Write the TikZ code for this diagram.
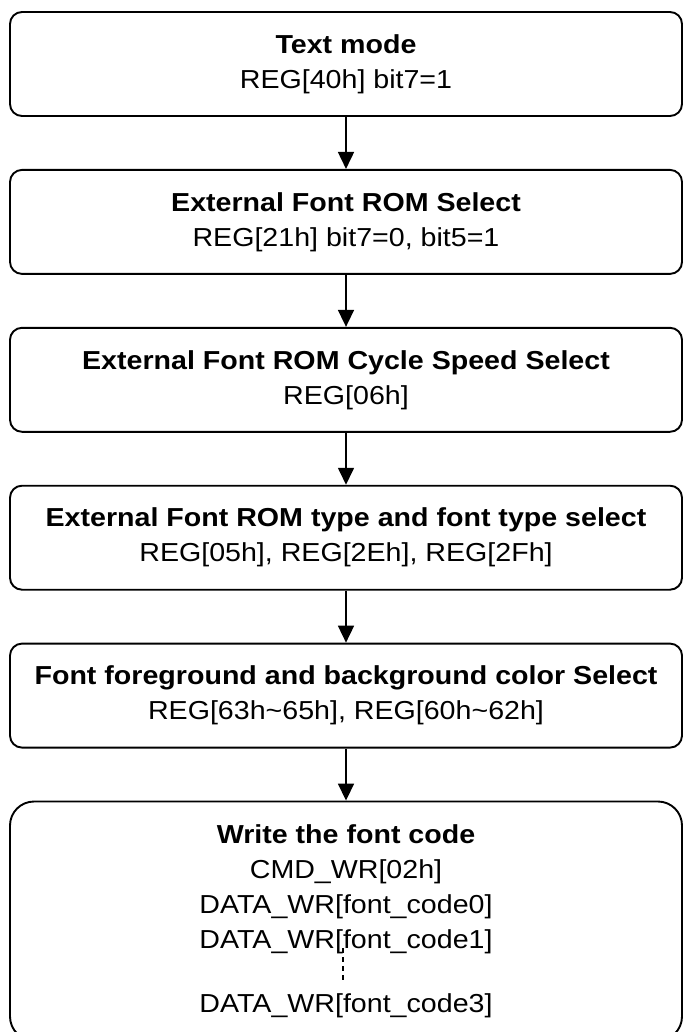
\documentclass[tikz,border=0pt]{standalone}
\usepackage{fontspec}
\setmainfont{Liberation Sans}[FakeStretch=1.1]
\usepackage{tikz}
\usetikzlibrary{positioning, calc, shapes, arrows.meta, fit}

\begin{document}
\begin{tikzpicture}[x=1pt, y=1pt, node distance=52pt,
		stepbox/.style={draw, line width=1.9pt, rounded corners=12pt, minimum width=672pt, minimum height=104pt,
			align=center, inner sep=0pt, font=\fontsize{26}{35}\selectfont},
		flow/.style={-{Triangle[width=16pt,length=17pt]}, line width=1.7pt}]
	\useasboundingbox (0,0) rectangle (685,-1032);
						\node[stepbox] (textmode) at (346,-64) {\textbf{Text mode}\\REG[40h] bit7=1};
						\node[stepbox, below=of textmode] (romselect) {\textbf{External Font ROM Select}\\REG[21h] bit7=0, bit5=1};
						\node[stepbox, below=of romselect] (cyclespeed) {\textbf{External Font ROM Cycle Speed Select}\\REG[06h]};
						\node[stepbox, below=of cyclespeed] (fonttype) {\textbf{External Font ROM type and font type select}\\REG[05h], REG[2Eh], REG[2Fh]};
						\node[stepbox, below=of fonttype] (colorselect) {\textbf{Font foreground and background color Select}\\REG[63h\textasciitilde 65h], REG[60h\textasciitilde 62h]};
						\node[stepbox, below=of colorselect, minimum height=239pt, rounded corners=24pt] (fontcode) {\textbf{Write the font code}\\
								CMD\_WR[02h]\\
								DATA\_WR[font\_code0]\\
								DATA\_WR[font\_code1]\\[29pt]
								DATA\_WR[font\_code3]};
						\foreach \a/\b in {textmode/romselect, romselect/cyclespeed, cyclespeed/fonttype, fonttype/colorselect, colorselect/fontcode}
								\draw[flow] (\a) -- (\b);
						\coordinate (dotstop) at (343,-948);
						\coordinate (dotsbot) at (343,-983);
						\draw[line width=1.5pt, dash pattern=on 5pt off 4pt] (dotstop) -- (dotsbot);
				\end{tikzpicture}
\end{document}
